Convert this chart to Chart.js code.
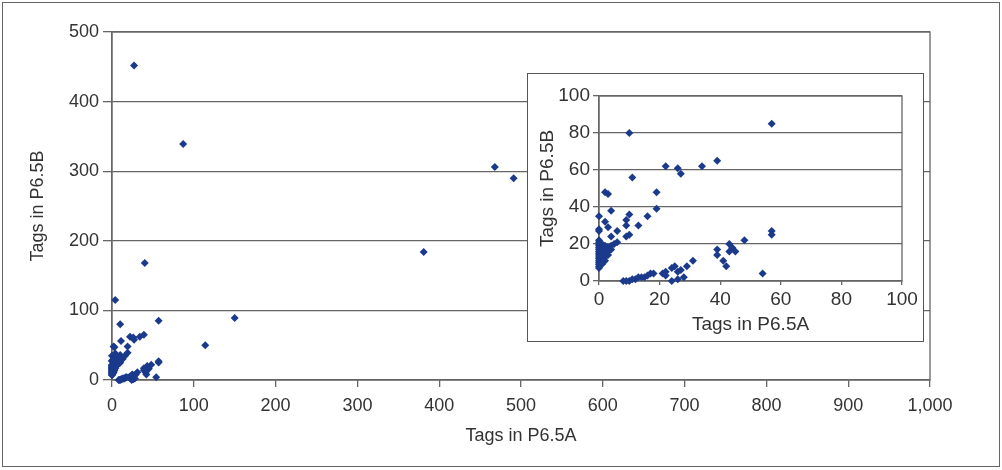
<!DOCTYPE html>
<html>
<head>
<meta charset="utf-8">
<script src="https://cdn.jsdelivr.net/npm/chart.js@4"></script>
<style>
  body { margin: 0; background: #fff; }
  #frame { position: absolute; left: 2px; top: 2px; width: 998px; height: 465px; border: 1.5px solid #666; box-sizing: border-box; }
  #main { position: absolute; left: 0; top: 0; }
  #insetBox { position: absolute; left: 527px; top: 73px; width: 397px; height: 269px; border: 1.5px solid #555; box-sizing: border-box; background: #fff; }
  #inset { position: absolute; left: 0; top: 0; }
</style>
</head>
<body>
<div id="frame"></div>
<canvas id="main" width="1002" height="470"></canvas>
<div id="insetBox"><canvas id="inset" width="394" height="266"></canvas></div>
<script>
// tags per transcript, library A (x) vs library B (y)
const tagsA = [
  27, 87, 40, 4, 150, 114, 381, 468, 491,
  10, 57, 22, 26, 27, 34, 39, 11, 2, 3, 19, 19, 4, 0, 10, 9, 16, 2, 13, 9, 3, 0, 0, 6, 4, 9, 10, 6, 5,
  0, 0, 0, 0, 0, 0, 0, 0, 0, 0, 0, 0, 0, 0, 0, 0,
  1, 1, 1, 1, 1, 1, 1, 2, 2, 2, 2, 2, 3, 3, 3, 4, 4,
  8, 9, 10, 11, 12, 13, 14, 15, 16, 17, 18, 21, 22, 22, 24, 25, 26, 24, 26, 27, 28, 29, 31,
  39, 39, 41, 42, 43, 44, 43, 45, 48, 54, 57, 57
];
const tagsB = [
  452, 339, 168, 115, 89, 50, 184, 306, 290,
  80, 85, 62, 61, 58, 62, 65, 56, 48, 47, 48, 39, 38, 35, 36, 33, 35, 32, 30, 30, 29, 28, 27, 27, 24, 24, 25, 21, 20,
  22, 21, 20, 19, 18, 17, 16, 15, 14, 13, 12, 11, 10, 9, 8, 7,
  20, 18, 16, 14, 12, 10, 9, 19, 17, 15, 13, 11, 18, 16, 14, 19, 17,
  0, 0, 0, 1, 1, 2, 2, 2, 3, 4, 4, 4, 5, 3, 7, 8, 5, 0, 1, 6, 2, 8, 11,
  17, 14, 11, 8, 20, 18, 16, 16, 22, 4, 25, 27
];
const mainXTicks = [0, 100, 200, 300, 400, 500, 600, 700, 800, 900, 1000];
const mainYTicks = [0, 100, 200, 300, 400, 500];
const insetTicks = [0, 20, 40, 60, 80, 100];

const points = tagsA.map((a, i) => ({ x: a, y: tagsB[i] }));
const markColor = "#1b3a8c";
const lineColor = "#666";
const textColor = "#333";

// box round the plot area (top and right edges)
const boxPlugin = {
  id: "box",
  beforeDatasetsDraw(chart) {
    const { ctx, chartArea: a } = chart;
    ctx.save();
    ctx.strokeStyle = lineColor;
    ctx.lineWidth = 1.3;
    ctx.strokeRect(a.left, a.top, a.right - a.left, a.bottom - a.top);
    ctx.restore();
  },
};

function makeChart(id, o) {
  return new Chart(document.getElementById(id), {
    type: "scatter",
    data: {
      datasets: [
        {
          data: points,
          pointStyle: "rectRot",
          pointRadius: 4,
          backgroundColor: markColor,
          borderColor: markColor,
          borderWidth: 0,
          clip: 6,
        },
      ],
    },
    options: {
      responsive: false,
      animation: false,
      events: [],
      layout: { padding: o.padding },
      plugins: { legend: { display: false }, tooltip: { enabled: false } },
      scales: {
        x: {
          type: "linear",
          min: 0,
          max: o.xTicks[o.xTicks.length - 1],
          afterBuildTicks: (s) => { s.ticks = o.xTicks.map((v) => ({ value: v })); },
          afterFit: (s) => { s.height = o.xHeight; },
          ticks: {
            color: textColor,
            font: { family: "Liberation Sans", size: o.font },
            padding: o.xTickPad,
            maxRotation: 0,
            callback: (v) => v.toLocaleString("en-US"),
          },
          grid: { drawOnChartArea: false, tickLength: o.tickLen, color: lineColor, lineWidth: 1.3 },
          border: { color: lineColor, width: 1.3 },
          title: {
            display: true,
            text: "Tags in P6.5A",
            color: textColor,
            font: { family: "Liberation Sans", size: o.font },
            padding: { top: 0, bottom: o.xTitlePad },
          },
        },
        y: {
          type: "linear",
          min: 0,
          max: o.yTicks[o.yTicks.length - 1],
          afterBuildTicks: (s) => { s.ticks = o.yTicks.map((v) => ({ value: v })); },
          afterFit: (s) => { s.width = o.yWidth; },
          ticks: {
            color: textColor,
            font: { family: "Liberation Sans", size: o.font },
            padding: o.yTickPad,
          },
          grid: { tickLength: o.tickLen + 2, color: lineColor, lineWidth: 1.3 },
          border: { color: lineColor, width: 1.3 },
          title: {
            display: true,
            text: "Tags in P6.5B",
            color: textColor,
            font: { family: "Liberation Sans", size: o.font },
            padding: { top: o.yTitlePad, bottom: 0 },
          },
        },
      },
    },
    plugins: [boxPlugin],
  });
}

makeChart("main", {
  padding: { left: 0, right: 72, top: 32, bottom: 0 },
  xTicks: mainXTicks, yTicks: mainYTicks,
  xHeight: 90, yWidth: 112,
  font: 18, tickLen: 7, xTickPad: 8, yTickPad: 4,
  xTitlePad: 23, yTitlePad: 27,
});

makeChart("inset", {
  padding: { left: 0, right: 20, top: 22, bottom: 0 },
  xTicks: insetTicks, yTicks: insetTicks,
  xHeight: 59, yWidth: 71,
  font: 19, tickLen: 4, xTickPad: 3, yTickPad: 3,
  xTitlePad: 4, yTitlePad: 8,
});
</script>
</body>
</html>
